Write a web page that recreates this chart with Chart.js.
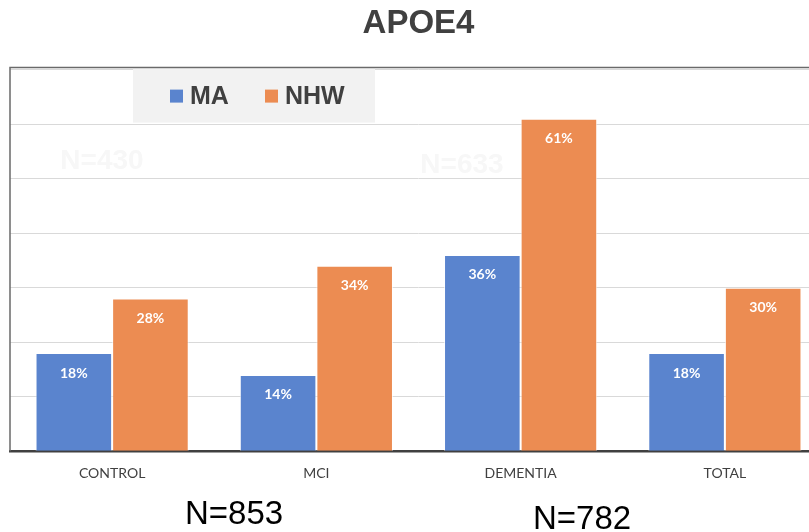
<!DOCTYPE html>
<html lang="en">
<head>
    <meta charset="UTF-8">
    <title>APOE4</title>
    <style>
        body {margin: 0; overflow: hidden; background: #fff;}
        #wrap {width: 840px; height: 532px;}
    </style>
    <script src="https://cdn.jsdelivr.net/npm/chart.js@4.4.0/dist/chart.umd.min.js"></script>
</head>
<body>
    <div id="wrap">
        <canvas id="apoeChart" width="840" height="532"></canvas>
    </div>

    <script>
        // values (percent)
        const categories = ['CONTROL', 'MCI', 'DEMENTIA', 'TOTAL'];
        const maValues = [18, 14, 36, 18];
        const nhwValues = [28, 34, 61, 30];
        const seriesNames = ['MA', 'NHW'];
        const sampleSizes = ['N=853', 'N=782'];
        const faintSizes = ['N=430', 'N=633'];

        const blue = '#5a84ce';
        const orange = '#ec8c52';

        // legend box sitting inside the plot + value labels + N= notes
        const extras = {
            id: 'extras',
            beforeDatasetsDraw(chart) {
                const c = chart.ctx, a = chart.chartArea;
                c.save();
                // faint background text
                c.fillStyle = '#f7f7f7';
                c.font = 'bold 28px "Liberation Sans", Arial';
                c.textAlign = 'center';
                c.textBaseline = 'middle';
                c.fillText(faintSizes[0], a.left + 92, 161);
                c.fillText(faintSizes[1], a.left + 452, 165);
                // legend box
                c.fillStyle = '#f2f2f2';
                c.fillRect(a.left + 123, a.top - 1, 242, 54);
                c.restore();
            },
            afterDatasetsDraw(chart) {
                const c = chart.ctx, a = chart.chartArea;
                c.save();
                // legend entries
                c.font = 'bold 25px "Liberation Sans", Arial';
                c.textBaseline = 'middle';
                c.textAlign = 'left';
                const ly = a.top + 27;
                const lx = [a.left + 160, a.left + 255];
                chart.data.datasets.forEach((ds, i) => {
                    c.fillStyle = ds.backgroundColor;
                    c.fillRect(lx[i], ly - 7, 13, 13);
                    c.fillStyle = '#404040';
                    c.fillText(ds.label, lx[i] + 20, ly + 1);
                });
                // value labels inside bar tops
                c.fillStyle = '#ffffff';
                c.font = 'bold 14px Lato, "Open Sans", sans-serif';
                c.textAlign = 'center';
                chart.data.datasets.forEach((ds, i) => {
                    chart.getDatasetMeta(i).data.forEach((bar, j) => {
                        c.fillText(ds.data[j] + '%', bar.x, bar.y + 20);
                    });
                });
                // plot frame (left + top)
                c.strokeStyle = '#6a6a6a';
                c.lineWidth = 1.5;
                c.beginPath();
                c.moveTo(a.left, a.bottom);
                c.lineTo(a.left, a.top - 2);
                c.lineTo(chart.width, a.top - 2);
                c.stroke();
                // sample sizes
                c.fillStyle = '#000';
                c.font = '33px "Liberation Sans", Arial';
                c.fillText(sampleSizes[0], 234, 515);
                c.fillText(sampleSizes[1], 582, 520);
                c.restore();
            }
        };

        const chart = new Chart(document.getElementById('apoeChart'), {
            type: 'bar',
            data: {
                labels: categories,
                datasets: [{
                    label: seriesNames[0],
                    data: maValues,
                    backgroundColor: blue,
                    borderColor: 'rgba(255,255,255,0.7)',
                    borderWidth: 1,
                    borderSkipped: 'bottom'
                }, {
                    label: seriesNames[1],
                    data: nhwValues,
                    backgroundColor: orange,
                    borderColor: 'rgba(255,255,255,0.7)',
                    borderWidth: 1,
                    borderSkipped: 'bottom'
                }]
            },
            options: {
                responsive: false,
                animation: false,
                layout: {padding: {left: 10, right: 13, top: 0, bottom: 36}},
                plugins: {
                    legend: {display: false},
                    tooltip: {enabled: false},
                    title: {
                        display: true,
                        text: 'APOE4',
                        color: '#404040',
                        font: {family: '"Liberation Sans", Arial', size: 33, weight: 'bold'},
                        padding: {top: 4, bottom: 26}
                    }
                },
                datasets: {bar: {categoryPercentage: 0.75, barPercentage: 1.0}},
                scales: {
                    x: {
                        grid: {display: false, drawTicks: false},
                        border: {display: true, color: '#404040', width: 2.5},
                        ticks: {
                            color: '#404040',
                            padding: 14,
                            font: {family: 'Lato, "Open Sans", sans-serif', size: 14}
                        }
                    },
                    y: {
                        min: 0,
                        max: 70,
                        ticks: {display: false, stepSize: 10},
                        grid: {color: '#d9d9d9', drawTicks: false},
                        border: {display: false}
                    }
                }
            },
            plugins: [extras]
        });
    </script>
</body>
</html>
